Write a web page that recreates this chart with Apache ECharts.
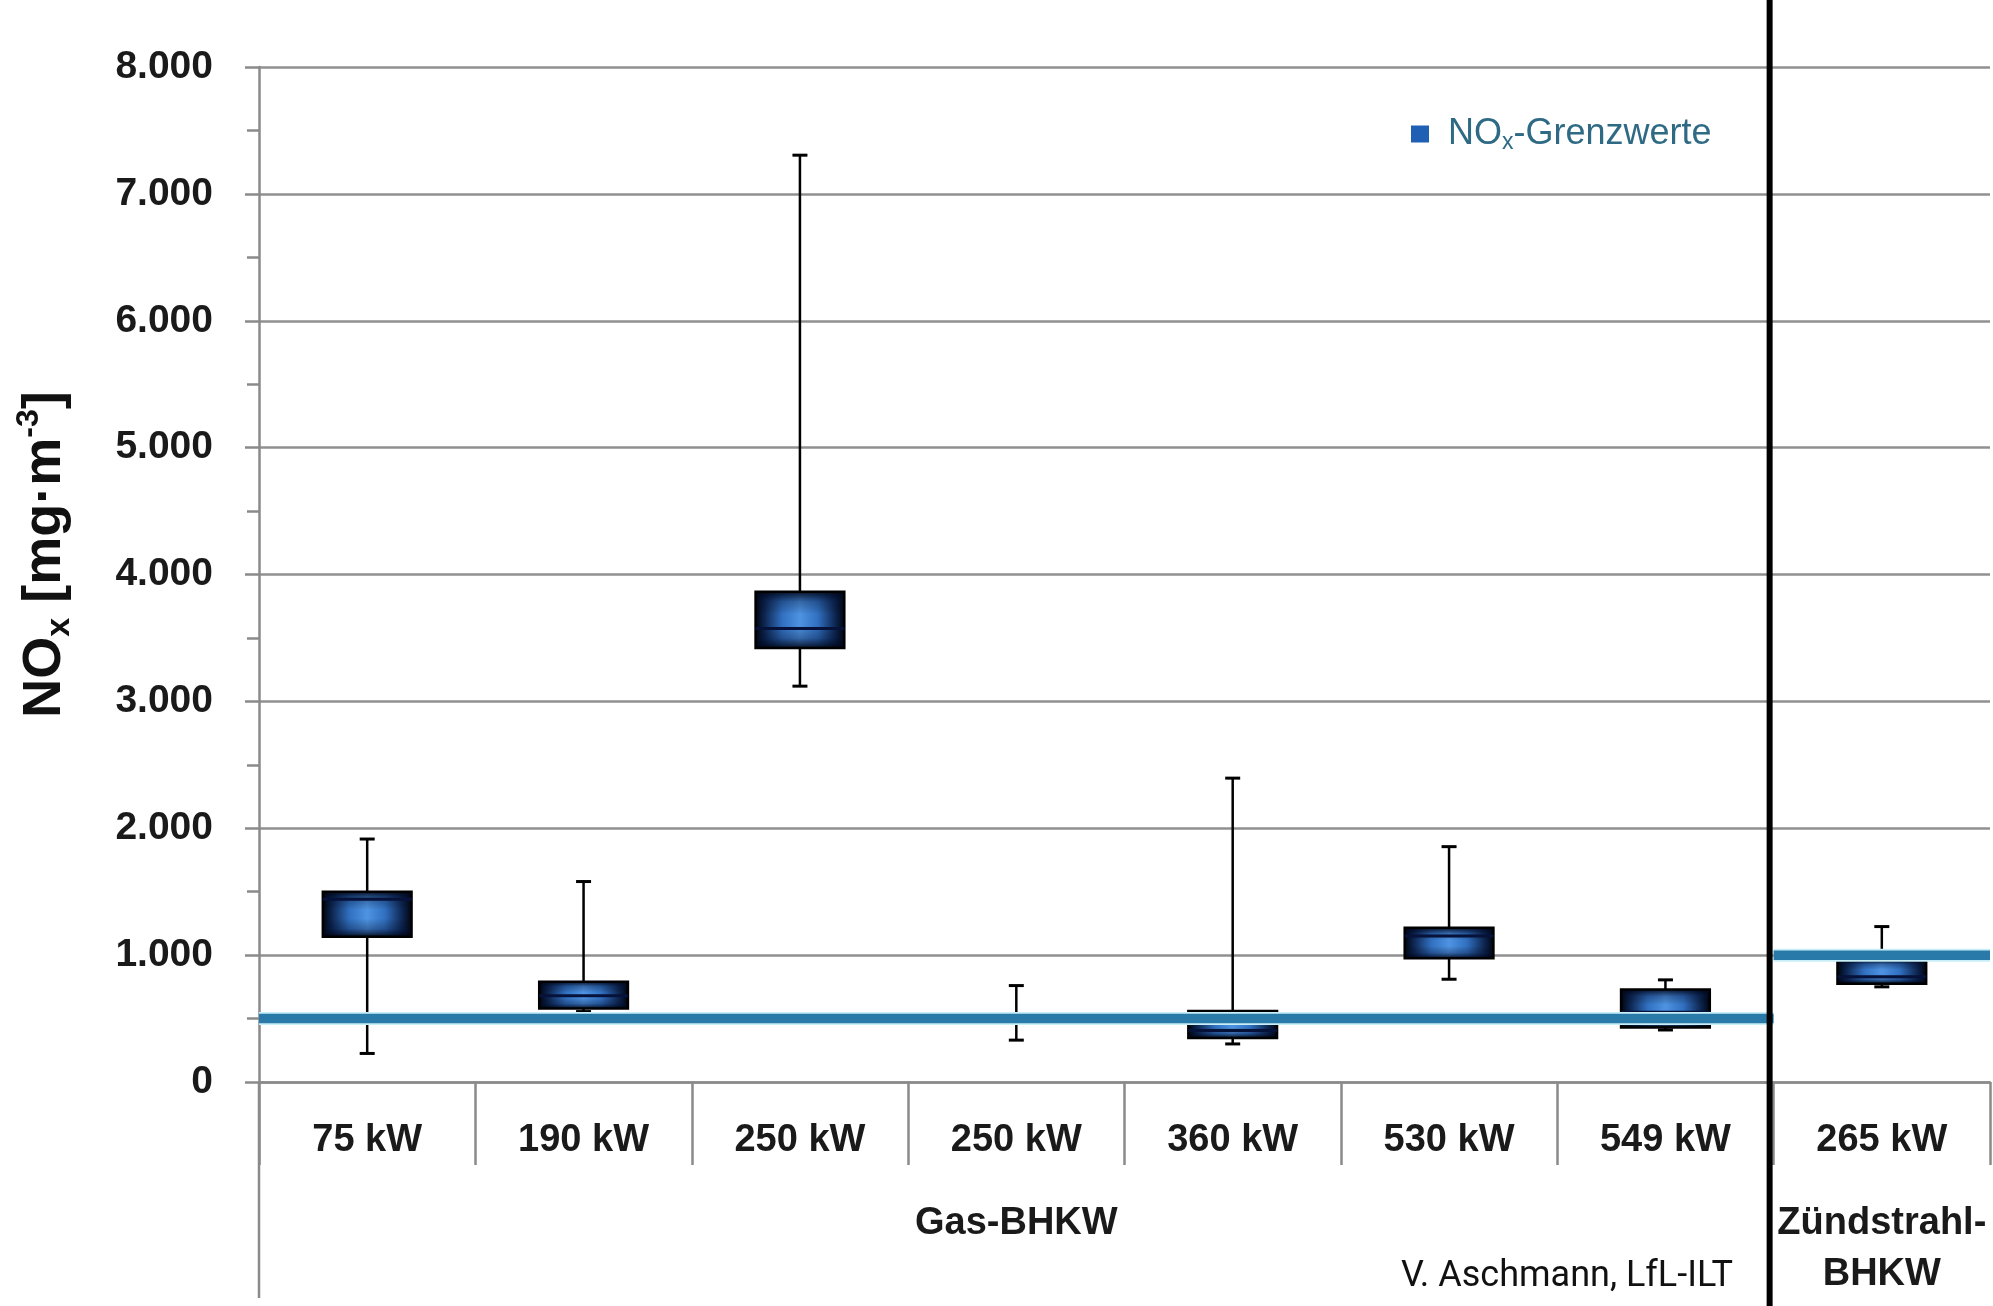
<!DOCTYPE html>
<html>
<head>
<meta charset="utf-8">
<script src="https://cdn.jsdelivr.net/npm/echarts@6/dist/echarts.min.js"></script>
<style>
html,body{margin:0;padding:0;background:#fff;}
#chart{width:1993px;height:1306px;}
</style>
</head>
<body>
<div id="chart"></div>
<script>
// ---- data ----
const categories   = ['75 kW', '190 kW', '250 kW', '250 kW', '360 kW', '530 kW', '549 kW', '265 kW'];
const whiskerLow   = [225, 555, 3120, 330, 300, 810, 410, 750];
const boxQ1        = [1145, 580, 3420, 478, 347, 975, 430, 775];
const medians      = [1440, 680, 3575, 500, 405, 1150, 550, 830];
const boxQ3        = [1500, 790, 3865, 522, 560, 1215, 730, 960];
const whiskerHigh  = [1915, 1580, 7305, 760, 2395, 1855, 805, 1225];

const groupNames   = ['Gas-BHKW', 'Zündstrahl-\nBHKW'];
const groupFrom    = [0, 7];
const groupTo      = [6, 7];
const limitValues  = [500, 1000];   // NOx-Grenzwerte per group

const yMin = 0, yMax = 8000, yStep = 1000;

const FONT = 'Liberation Sans';

const boxData = categories.map((c, i) => [i, whiskerLow[i], boxQ1[i], medians[i], boxQ3[i], whiskerHigh[i]]);
const limitData = limitValues.map((v, i) => [groupFrom[i], groupTo[i], v]);

function fmtDE(v) {
  return String(v).replace(/\B(?=(\d{3})+(?!\d))/g, '.');
}

function renderBox(params, api) {
  const idx = api.value(0);
  const lo = api.coord([idx, api.value(1)]);
  const q1 = api.coord([idx, api.value(2)]);
  const md = api.coord([idx, api.value(3)]);
  const q3 = api.coord([idx, api.value(4)]);
  const hi = api.coord([idx, api.value(5)]);
  const band = api.size([1, 0])[0];
  const bw = band * 0.41;
  const cw = 15;
  const x = lo[0];
  const bx = x - bw / 2, by = q3[1], bh = q1[1] - q3[1];
  return {
    type: 'group',
    children: [
      { type: 'line', shape: { x1: x, y1: hi[1], x2: x, y2: lo[1] }, style: { stroke: '#000', lineWidth: 2.5 } },
      { type: 'line', shape: { x1: x - cw / 2, y1: hi[1], x2: x + cw / 2, y2: hi[1] }, style: { stroke: '#000', lineWidth: 3 } },
      { type: 'line', shape: { x1: x - cw / 2, y1: lo[1], x2: x + cw / 2, y2: lo[1] }, style: { stroke: '#000', lineWidth: 3 } },
      { type: 'rect', shape: { x: bx, y: by, width: bw, height: bh },
        style: { fill: new echarts.graphic.LinearGradient(0, 0, 1, 0, [
          { offset: 0, color: '#000510' }, { offset: 0.1, color: '#0d2550' },
          { offset: 0.3, color: '#3170c0' }, { offset: 0.5, color: '#4e93e3' },
          { offset: 0.7, color: '#3170c0' }, { offset: 0.9, color: '#0d2550' }, { offset: 1, color: '#000510' }]) } },
      { type: 'rect', shape: { x: bx, y: by, width: bw, height: bh },
        style: { fill: new echarts.graphic.LinearGradient(0, 0, 0, 1, [
          { offset: 0, color: 'rgba(0,5,20,0.9)' }, { offset: 0.18, color: 'rgba(0,10,40,0.3)' },
          { offset: 0.4, color: 'rgba(0,0,0,0)' }, { offset: 0.6, color: 'rgba(0,0,0,0)' },
          { offset: 0.82, color: 'rgba(0,10,40,0.3)' }, { offset: 1, color: 'rgba(0,5,20,0.9)' }]) } },
      { type: 'rect', shape: { x: bx, y: by, width: bw, height: bh },
        style: { fill: 'none', stroke: '#000', lineWidth: 2.5 } },
      { type: 'line', shape: { x1: bx, y1: md[1], x2: bx + bw, y2: md[1] }, style: { stroke: '#06123a', lineWidth: 3 } }
    ]
  };
}

function renderLimit(params, api) {
  const a = api.coord([api.value(0), api.value(2)]);
  const b = api.coord([api.value(1), api.value(2)]);
  const band = api.size([1, 0])[0];
  const x1 = a[0] - band / 2, x2 = b[0] + band / 2;
  return {
    type: 'group',
    children: [
      { type: 'line', shape: { x1, y1: a[1], x2, y2: a[1] }, style: { stroke: '#c8eef8', lineWidth: 13 } },
      { type: 'line', shape: { x1, y1: a[1], x2, y2: a[1] }, style: { stroke: '#2a7aa9', lineWidth: 9.5 } }
    ]
  };
}

const chart = echarts.init(document.getElementById('chart'), null, { renderer: 'canvas' });

const legendColor = '#2f6a85';
const option = {
  backgroundColor: '#fff',
  animation: false,
  grid: { left: 259, right: 3, top: 67, bottom: 224 },
  legend: {
    left: 1406, top: 111,
    itemWidth: 18, itemHeight: 17,
    data: [{ name: 'NOx-Grenzwerte', icon: 'rect', itemStyle: { color: '#1f5fb4' } }],
    formatter: () => '{b|NO}{s|x}{a|-Grenzwerte}',
    textStyle: {
      fontFamily: FONT, fontSize: 36, color: legendColor,
      rich: {
        a: { fontFamily: FONT, fontSize: 36, lineHeight: 40, color: legendColor },
        b: { fontFamily: FONT, fontSize: 36, lineHeight: 40, color: legendColor, padding: [0, 0, 0, 14] },
        s: { fontFamily: FONT, fontSize: 23, lineHeight: 14, verticalAlign: 'bottom', color: legendColor }
      }
    }
  },
  xAxis: {
    type: 'category',
    data: categories,
    boundaryGap: true,
    axisLine: { lineStyle: { color: '#8a8a8a', width: 2.5 } },
    axisTick: { show: true, inside: false, length: 83, lineStyle: { color: '#8a8a8a', width: 2.5 } },
    axisLabel: { margin: 40, fontFamily: FONT, fontSize: 38, fontWeight: 'bold', color: '#1a1a1a', interval: 0 },
    splitLine: { show: false }
  },
  yAxis: {
    type: 'value',
    min: yMin, max: yMax, interval: yStep,
    name: '{a|NO}{s|x}{a| [mg·m}{p|-3}{a|]}',
    nameLocation: 'middle',
    nameRotate: 90,
    nameGap: 182,
    nameTextStyle: {
      fontFamily: FONT, fontSize: 54, fontWeight: 'bold', color: '#111',
      padding: [0, 0, 0, 40],
      rich: {
        a: { fontFamily: FONT, fontSize: 54, fontWeight: 'bold', lineHeight: 64, color: '#111' },
        s: { fontFamily: FONT, fontSize: 34, fontWeight: 'bold', lineHeight: 26, verticalAlign: 'bottom', color: '#111' },
        p: { fontFamily: FONT, fontSize: 32, fontWeight: 'bold', lineHeight: 20, verticalAlign: 'top', color: '#111' }
      }
    },
    axisLine: { show: true, lineStyle: { color: '#8a8a8a', width: 2.5 } },
    axisTick: { show: true, inside: false, length: 14, lineStyle: { color: '#8a8a8a', width: 2.5 } },
    minorTick: { show: true, splitNumber: 2, length: 12, lineStyle: { color: '#8a8a8a', width: 2.5 } },
    axisLabel: { margin: 46, fontFamily: FONT, fontSize: 39, fontWeight: 'bold', color: '#1a1a1a', formatter: fmtDE },
    splitLine: { show: true, lineStyle: { color: '#909090', width: 2.5 } }
  },
  series: [
    {
      type: 'custom', name: 'Boxplot', renderItem: renderBox,
      encode: { x: 0, y: [1, 2, 3, 4, 5] },
      data: boxData, z: 3, silent: true
    },
    {
      type: 'custom', name: 'NOx-Grenzwerte', renderItem: renderLimit,
      itemStyle: { color: '#1f5fb4' },
      encode: { x: [0, 1], y: 2 },
      data: limitData, z: 5, silent: true
    }
  ]
};
chart.setOption(option);

// annotations placed from the axis scales
const xPix = v => chart.convertToPixel({ xAxisIndex: 0 }, v);
const yPix = v => chart.convertToPixel({ yAxisIndex: 0 }, v);
const y0 = yPix(0);
const xLeft = xPix(0) - (xPix(1) - xPix(0)) / 2;
const xDiv = (xPix(groupTo[0]) + xPix(groupFrom[1])) / 2 - 4;
const graphics = [
  { type: 'line', z: 1, shape: { x1: xLeft, y1: y0, x2: xLeft, y2: 1298 }, style: { stroke: '#8a8a8a', lineWidth: 2.5 } },
  { type: 'line', z: 20, shape: { x1: xDiv, y1: 0, x2: xDiv, y2: 1306 }, style: { stroke: '#000', lineWidth: 6 } },
  { type: 'text', z: 10, style: { text: 'V. Aschmann, LfL-ILT', x: 1733, y: 1277, align: 'right', verticalAlign: 'middle',
      fontFamily: 'Roboto', fontSize: 36, fill: '#111' } }
];
groupNames.forEach((n, i) => {
  const cx = xPix((groupFrom[i] + groupTo[i]) / 2);
  graphics.push({ type: 'text', z: 10, style: { text: n, x: cx, y: 1198, align: 'center', verticalAlign: 'top',
    fontFamily: FONT, fontSize: 38, fontWeight: 'bold', fill: '#1a1a1a', lineHeight: 51 } });
});
chart.setOption({ graphic: graphics });
</script>
</body>
</html>
